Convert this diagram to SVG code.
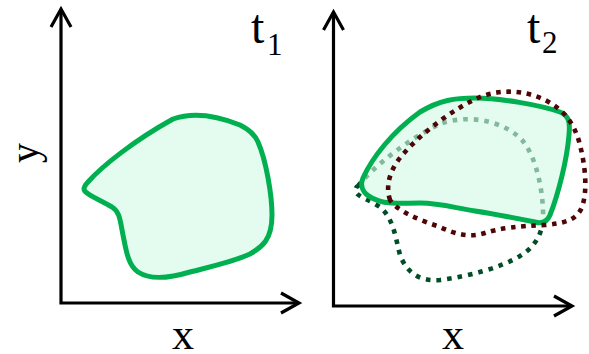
<svg xmlns="http://www.w3.org/2000/svg" width="589" height="354" viewBox="0 0 589 354">
<style>
  .lbl { font-family: "Liberation Serif", "Times New Roman", serif; fill: #000; }
  .axis { fill: none; stroke: #000; stroke-width: 3.2; stroke-linejoin: miter; }
  .blob { fill: #d3fae5; fill-opacity: 0.62; stroke: #00b050; stroke-width: 5; stroke-linejoin: round; }
  .dotG { fill: none; stroke: #004d26; stroke-width: 4.6; stroke-dasharray: 4.6 6; }
  .dotR { fill: none; stroke: #4d0505; stroke-width: 4.6; stroke-dasharray: 4.6 5.6; }
</style>
<defs>
  <marker id="arr" viewBox="-22 -12 26 24" refX="0" refY="0" markerWidth="26" markerHeight="24" orient="auto-start-reverse" markerUnits="userSpaceOnUse">
    <path d="M-18,-10 L0,0 L-18,10" fill="none" stroke="#000" stroke-width="3.2"/>
  </marker>
</defs>
<rect width="589" height="354" fill="#fff"/>
<g id="connectors">
  <path class="axis" d="M61,9 L61,303 L299,303" marker-start="url(#arr)" marker-end="url(#arr)"/>
  <path class="axis" d="M333.5,12 L333.5,306 L572,306" marker-start="url(#arr)" marker-end="url(#arr)"/>
</g>
<g id="panel-t1">
  <path id="region-t1" class="blob" d="M88,182 C102,166 135,140 173,119 C190,113 210,113 240,125 C250,130 255,135 258,142 C266,160 272,195 272,215 C272,240 262,247 250,254 C230,263 205,268 190,272 C170,278 150,280 138,272 C128,265 126,250 123,235 C120,220 120,212 112,207 C100,200 92,197 87,193 C82,190 84,186 88,182 Z"/>
  <text class="lbl" x="251" y="43" font-size="48">t</text>
  <text class="lbl" x="267" y="55" font-size="31">1</text>
  <text class="lbl" transform="translate(38,153) rotate(-90)" text-anchor="middle" font-size="40">y</text>
  <text class="lbl" x="183" y="349" text-anchor="middle" font-size="44">x</text>
</g>
<g id="panel-t2">
  <path id="region-prev" class="dotG" d="M358,186 C375,165 410,138 440,124 C470,113 505,122 522,140 C535,155 542,185 543,210 C544,230 538,245 520,256 C500,268 470,276 440,280 C415,282 405,268 400,255 C395,235 393,218 380,207 C370,200 358,197 356,192 C355,189 356,187 358,186 Z"/>
  <path id="region-t2" class="blob" d="M363,178 C372,158 392,132 420,112 C440,100 455,98 475,98 C500,98 540,105 560,112 C570,116 570,124 569,135 C567,160 558,195 550,215 C547,222 542,224 535,222 C515,218 495,214 475,211 C455,208 440,203 420,203 C400,203 385,205 372,198 C362,193 360,185 363,178 Z"/>
  <path id="region-next" class="dotR" d="M390,200 C385,185 390,168 405,152 C425,130 455,108 480,97 C500,89 525,90 545,100 C565,110 575,125 580,145 C585,165 588,190 582,207 C577,220 565,223 545,225 C520,226 500,228 485,233 C470,238 455,234 440,227 C420,220 398,212 390,200 Z"/>
  <text class="lbl" x="527" y="43" font-size="48">t</text>
  <text class="lbl" x="542" y="53" font-size="31">2</text>
  <text class="lbl" x="453" y="349" text-anchor="middle" font-size="44">x</text>
</g>
</svg>
